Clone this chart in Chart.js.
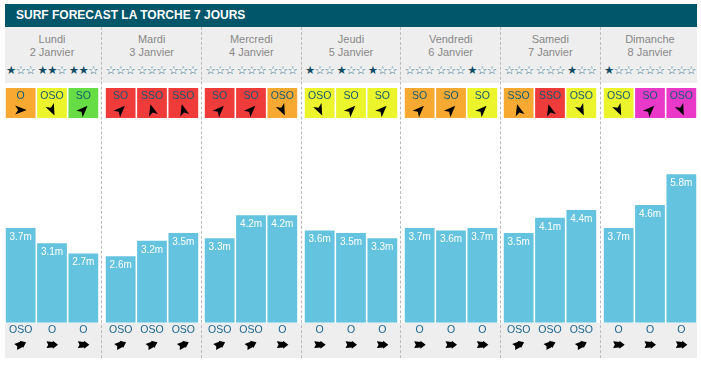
<!DOCTYPE html>
<html>
<head>
<meta charset="utf-8">
<script src="https://cdn.jsdelivr.net/npm/chart.js"></script>
<style>
  html, body { margin:0; padding:0; background:#fff; }
  body { width:701px; height:366px; overflow:hidden; font-family:"Liberation Sans", Arial, sans-serif; }
  #wrap { position:absolute; left:5px; top:4px; width:692px; height:354px; }
  .head { height:23px; line-height:23px; padding-left:11px; background:#015669; color:#fff; font-weight:bold; font-size:12px; }
  .band { position:absolute; left:0; width:692px; background:#eeeeee; }
  .band.top { top:23px; height:56px; }
  .band.bottom { top:319px; height:34.5px; }
  .cols { position:absolute; left:0; top:23px; width:692px; display:flex; justify-content:space-between; }
  .col { position:relative; width:94px; height:330.5px; }
  .col + .col::before { content:''; position:absolute; left:-3.3px; top:0; bottom:0; border-left:1px dashed #bbb; }
  .day { padding-top:6px; line-height:12.5px; font-size:11px; color:#888; text-align:center; }
  .stars { display:flex; margin-top:6px; height:12px; line-height:12px; }
  .stars div { width:33.333%; text-align:center; font-family:"DejaVu Sans", sans-serif; font-size:11.5px; white-space:nowrap; letter-spacing:-0.6px; }
  .stars b { font-weight:normal; color:#0f4c64; }
  .stars i { font-style:normal; color:#1e5f78; position:relative; z-index:0; }
  .stars i::before { content:'\2605'; position:absolute; left:0; top:0; color:#fff; z-index:-1; }
  .col canvas { position:absolute; left:0; top:56px; }
</style>
</head>
<body>
<div id="wrap">
  <div class="head">SURF FORECAST LA TORCHE 7 JOURS</div>
  <div class="band top"></div>
  <div class="band bottom"></div>
  <div class="cols" id="cols"></div>
</div>
<script>
// ---------- DONNÉES ----------
const DAYS  = ["Lundi", "Mardi", "Mercredi", "Jeudi", "Vendredi", "Samedi", "Dimanche"];
const DATES = ["2 Janvier", "3 Janvier", "4 Janvier", "5 Janvier", "6 Janvier", "7 Janvier", "8 Janvier"];

// hauteur des vagues (m), 3 créneaux par jour
const WAVE_HEIGHTS = [
  [3.7, 3.1, 2.7],
  [2.6, 3.2, 3.5],
  [3.3, 4.2, 4.2],
  [3.6, 3.5, 3.3],
  [3.7, 3.6, 3.7],
  [3.5, 4.1, 4.4],
  [3.7, 4.6, 5.8],
];
// étoiles pleines (sur 3)
const STARS = [
  [1, 2, 2],
  [0, 0, 0],
  [0, 0, 0],
  [1, 1, 1],
  [0, 0, 1],
  [0, 0, 1],
  [1, 0, 0],
];
const WIND_DIR = [
  ["O", "OSO", "SO"],
  ["SO", "SSO", "SSO"],
  ["SO", "SO", "OSO"],
  ["OSO", "SO", "SO"],
  ["SO", "SO", "SO"],
  ["SSO", "SSO", "OSO"],
  ["OSO", "SO", "OSO"],
];
const WIND_LEVEL = [
  ["orange", "yellow", "green"],
  ["red", "red", "red"],
  ["red", "red", "orange"],
  ["yellow", "yellow", "yellow"],
  ["orange", "orange", "yellow"],
  ["orange", "red", "yellow"],
  ["yellow", "magenta", "magenta"],
];
const SWELL_DIR = [
  ["OSO", "O", "O"],
  ["OSO", "OSO", "OSO"],
  ["OSO", "OSO", "O"],
  ["O", "O", "O"],
  ["O", "O", "O"],
  ["OSO", "OSO", "OSO"],
  ["O", "O", "O"],
];

// ---------- STYLE ----------
const FONT = '"Liberation Sans", Arial, sans-serif';
const BAR_COLOR = "#64c3de";
const LEVEL_COLORS = { orange:"#f8a932", yellow:"#ecf52c", green:"#67dd45", red:"#f03b3b", magenta:"#ea39c9" };
const WIND_ANGLE  = { O:0, OSO:65, SO:-45, SSO:-105 };
const SWELL_ANGLE = { O:0, OSO:-25 };
const Y_MAX = 9.17;
const WIND_BAND = [8, Y_MAX];   // bande des cases de vent, en haut de l'échelle

function windArrow(ctx, x, y, deg){
  ctx.save();
  ctx.translate(x, y);
  ctx.rotate(deg * Math.PI / 180);
  ctx.beginPath();
  ctx.moveTo(6, 0);
  ctx.lineTo(-5.5, -4.6);
  ctx.lineTo(-2.6, 0);
  ctx.lineTo(-5.5, 4.6);
  ctx.closePath();
  ctx.fillStyle = "#000";
  ctx.fill();
  ctx.restore();
}
function swellArrow(ctx, x, y, deg){
  ctx.save();
  ctx.translate(x, y);
  ctx.rotate(deg * Math.PI / 180);
  ctx.beginPath();
  ctx.moveTo(6, 0);
  ctx.lineTo(0.8, -4);
  ctx.lineTo(0.8, -2.8);
  ctx.lineTo(-5.5, -3.4);
  ctx.lineTo(-3.8, 0);
  ctx.lineTo(-5.5, 3.4);
  ctx.lineTo(0.8, 2.8);
  ctx.lineTo(0.8, 4);
  ctx.closePath();
  ctx.fillStyle = "#000";
  ctx.fill();
  ctx.restore();
}

// textes dans les barres / cases + flèches
const labelsPlugin = {
  id: "surfLabels",
  afterDatasetsDraw(chart){
    const ctx = chart.ctx;
    const d = chart.options.dayIndex;
    ctx.save();
    ctx.textAlign = "center";
    ctx.textBaseline = "middle";

    // hauteurs
    ctx.font = "10px " + FONT;
    ctx.fillStyle = "#fff";
    chart.getDatasetMeta(0).data.forEach((el, i) => {
      ctx.fillText(WAVE_HEIGHTS[d][i] + "m", el.x, el.y + 9);
    });

    // vent
    ctx.font = "10.5px " + FONT;
    chart.getDatasetMeta(1).data.forEach((el, i) => {
      ctx.fillStyle = "#135a74";
      ctx.fillText(WIND_DIR[d][i], el.x, el.y + 8.5);
      windArrow(ctx, el.x, el.y + 22, WIND_ANGLE[WIND_DIR[d][i]]);
    });

    // houle (flèches sous les ticks)
    const bottom = chart.chartArea.bottom;
    chart.getDatasetMeta(0).data.forEach((el, i) => {
      swellArrow(ctx, el.x, bottom + 22, SWELL_ANGLE[SWELL_DIR[d][i]]);
    });
    ctx.restore();
  }
};

function starsHtml(n){
  let s = "";
  for (let k=0;k<3;k++) s += k < n ? "<b>\u2605</b>" : "<i>\u2606</i>";
  return s;
}

const cols = document.getElementById("cols");
DAYS.forEach((day, d) => {
  const col = document.createElement("div");
  col.className = "col";
  col.innerHTML =
    `<div class="day">${day}<br>${DATES[d]}</div>` +
    `<div class="stars">${STARS[d].map(n => `<div>${starsHtml(n)}</div>`).join("")}</div>` +
    `<canvas width="94" height="274"></canvas>`;
  cols.appendChild(col);

  new Chart(col.querySelector("canvas"), {
    type: "bar",
    data: {
      labels: SWELL_DIR[d],
      datasets: [
        { data: WAVE_HEIGHTS[d], backgroundColor: BAR_COLOR, borderWidth: 0,
          grouped: false, barPercentage: 0.95, categoryPercentage: 1 },
        { data: WIND_DIR[d].map(() => WIND_BAND), backgroundColor: WIND_LEVEL[d].map(l => LEVEL_COLORS[l]),
          borderWidth: 0, grouped: false, barPercentage: 0.95, categoryPercentage: 1 }
      ]
    },
    options: {
      dayIndex: d,
      responsive: false, animation: false, events: [],
      layout: { padding: { top: 5, left: 0, right: 0, bottom: 0 } },
      plugins: { legend: { display: false }, tooltip: { enabled: false } },
      scales: {
        x: {
          grid: { display: false, drawTicks: false },
          border: { display: false },
          ticks: { color: "#1c6690", font: { family: FONT, size: 10.5 }, padding: 1, maxRotation: 0, autoSkip: false },
          afterFit(scale){ scale.height = 34.3; }
        },
        y: { display: false, min: 0, max: Y_MAX }
      }
    },
    plugins: [labelsPlugin]
  });
});
</script>
</body>
</html>
